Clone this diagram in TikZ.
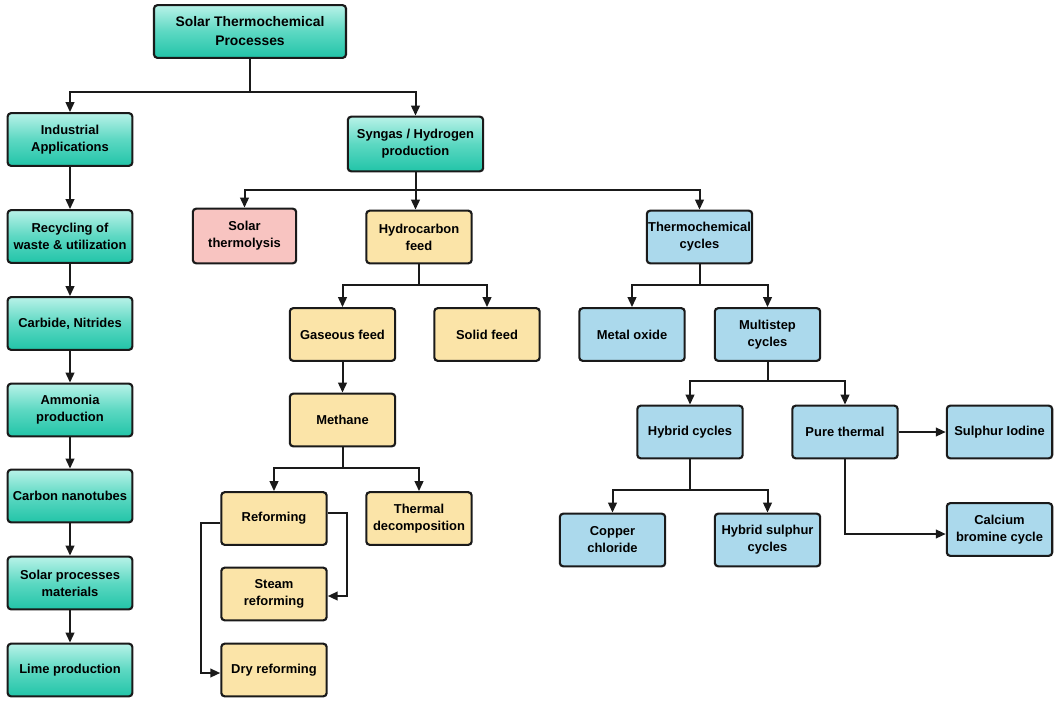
\documentclass[tikz,border=0pt]{standalone}
\usepackage{fontspec}
\setmainfont{Liberation Sans}
\usetikzlibrary{arrows.meta}
\definecolor{tealA}{HTML}{B8F2E8}
\definecolor{tealM}{HTML}{5CD8C2}
\definecolor{tealB}{HTML}{22C4A8}
\definecolor{pinkF}{HTML}{F8C4C1}
\definecolor{yelF}{HTML}{FBE4A8}
\definecolor{bluF}{HTML}{ABD9EC}
\definecolor{lineC}{HTML}{1A1A1A}
\begin{document}
\begin{tikzpicture}[x=0.75pt,y=-0.75pt,
  box/.style={draw=lineC, line width=1.6pt, rounded corners=2.5pt, align=center,
    inner sep=0pt, font=\bfseries\fontsize{9.7}{12.8}\selectfont,
    minimum width=79pt, minimum height=39.5pt},
  tealbox/.style={box, top color=tealA, bottom color=tealB, middle color=tealM,
    minimum width=93.5pt},
  pinkbox/.style={box, fill=pinkF},
  yelbox/.style={box, fill=yelF},
  blubox/.style={box, fill=bluF},
  conn/.style={draw=lineC, line width=1.5pt},
  arr/.style={conn, -{Triangle[length=7.5pt,width=6.5pt]}}]
\useasboundingbox (0,0) rectangle (1059,704);

% nodes
\node[tealbox, minimum width=144pt, minimum height=39.5pt,
  font=\bfseries\fontsize{10.4}{14.2}\selectfont] (top) at (250,31.5) {Solar Thermochemical\\Processes};
\node[tealbox] (ind) at (70,139.5) {Industrial\\Applications};
\node[tealbox] (rec) at (70,236.5) {Recycling of\\waste \& utilization};
\node[tealbox] (car) at (70,323.5) {Carbide, Nitrides};
\node[tealbox] (amm) at (70,410) {Ammonia\\production};
\node[tealbox] (cnt) at (70,496) {Carbon nanotubes};
\node[tealbox] (spm) at (70,583) {Solar processes\\materials};
\node[tealbox] (lime) at (70,670) {Lime production};

\node[tealbox, minimum width=101.5pt, minimum height=41pt] (syn) at (415.5,144) {Syngas / Hydrogen\\production};

\node[pinkbox, minimum width=77.5pt, minimum height=41pt] (sth) at (244.5,236) {Solar\\thermolysis};
\node[yelbox] (hyd) at (419,237) {Hydrocarbon\\feed};
\node[blubox] (tcc) at (699.5,237) {Thermochemical\\cycles};

\node[yelbox] (gas) at (342.5,334.5) {Gaseous feed};
\node[yelbox] (sol) at (487,334.5) {Solid feed};
\node[yelbox] (met) at (342.5,420) {Methane};
\node[yelbox] (ref) at (274,518.5) {Reforming};
\node[yelbox] (thd) at (419,518.5) {Thermal\\decomposition};
\node[yelbox] (stm) at (274,594) {Steam\\reforming};
\node[yelbox] (dry) at (274,670) {Dry reforming};

\node[blubox] (mox) at (632,334.5) {Metal oxide};
\node[blubox] (mul) at (767.5,334.5) {Multistep\\cycles};
\node[blubox] (hyb) at (690,432) {Hybrid cycles};
\node[blubox] (pur) at (845,432) {Pure thermal};
\node[blubox] (sio) at (999.5,432) {Sulphur Iodine};
\node[blubox] (cuc) at (612.5,540) {Copper\\chloride};
\node[blubox] (hsc) at (767.5,540) {Hybrid sulphur\\cycles};
\node[blubox] (cab) at (999.5,529.5) {Calcium\\bromine cycle};

% connectors: top split
\coordinate (j1) at (250,92);
\draw[conn] (top.south) -- (j1);
\draw[arr] (j1) -| (ind.north);
\draw[arr] (j1) -| (syn.north);

% left column
\draw[arr] (ind) -- (rec);
\draw[arr] (rec) -- (car);
\draw[arr] (car) -- (amm);
\draw[arr] (amm) -- (cnt);
\draw[arr] (cnt) -- (spm);
\draw[arr] (spm) -- (lime);

% syngas split
\coordinate (j2) at (415.5,190);
\draw[conn] (syn.south) -- (j2);
\draw[arr] (j2) -| (sth.north);
\draw[arr] (j2) -- (j2 |- hyd.north);
\draw[arr] (j2) -| (tcc.north);

% hydrocarbon split
\coordinate (j3) at (419,285);
\draw[conn] (hyd.south) -- (j3);
\draw[arr] (j3) -| (gas.north);
\draw[arr] (j3) -| (sol.north);

% thermochemical split
\coordinate (j4) at (699.5,285);
\draw[conn] (tcc.south) -- (j4);
\draw[arr] (j4) -| (mox.north);
\draw[arr] (j4) -| (mul.north);

% gaseous -> methane
\draw[arr] (gas) -- (met);

% methane split
\coordinate (j5) at (342.5,468);
\draw[conn] (met.south) -- (j5);
\draw[arr] (j5) -| (ref.north);
\draw[arr] (j5) -| (thd.north);

% reforming branches
\coordinate (rr) at (347,513);
\coordinate (rl) at (201,523);
\draw[arr] (ref.east |- rr) -- (rr) |- (stm.east |- 0,596);
\draw[arr] (ref.west |- rl) -- (rl) |- (dry.west |- 0,673);

% multistep split
\coordinate (j6) at (767.5,381);
\draw[conn] (mul.south) -- (j6);
\draw[arr] (j6) -| (hyb.north);
\draw[arr] (j6) -| (pur.north);

% pure thermal
\draw[arr] (pur) -- (sio);
\draw[arr] (pur.south) |- (cab.west |- 0,534);

% hybrid split
\coordinate (j7) at (690,490);
\draw[conn] (hyb.south) -- (j7);
\draw[arr] (j7) -| (cuc.north);
\draw[arr] (j7) -| (hsc.north);
\end{tikzpicture}
\end{document}
